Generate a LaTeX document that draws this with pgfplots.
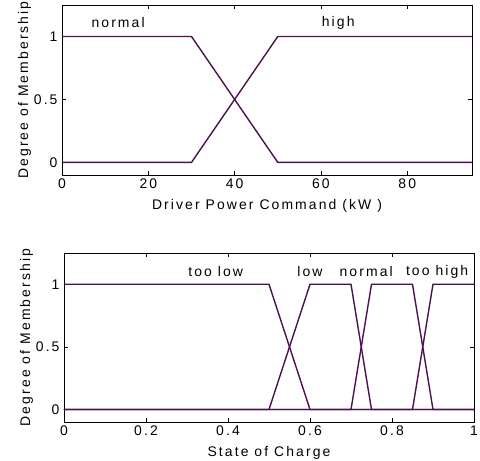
\documentclass[border=0pt]{standalone}
\usepackage{fontspec}
\setmainfont{Liberation Sans}[LetterSpace=15]
\usepackage{pgfplots}
\pgfplotsset{compat=1.18}
\definecolor{mf}{HTML}{4A1050}
\begin{document}
\begin{tikzpicture}
\pgfplotsset{
  mfline/.style={mf, line width=1.4pt, no marks},
  every axis/.append style={
    scale only axis, width=410bp, height=170bp,
    axis line style={black, line width=0.8pt},
    tick align=inside, major tick length=4bp,
    tick style={black, line width=0.6pt},
    ymin=-0.1, ymax=1.25,
    ytick={0,0.5,1}, yticklabels={0,0.5,1},
    ylabel={Degree of Membership},
    ylabel style={yshift=-4bp},
    font=\fontsize{14}{16}\selectfont,
    tick label style={font=\fontsize{14}{16}\selectfont},
    yticklabel style={xshift=-1bp},
    /pgf/number format/assume math mode=true,
    clip=false,
  },
}
\begin{axis}[
  xmin=0, xmax=95,
  xtick={0,20,40,60,80}, xticklabels={0,20,40,60,80},
  xlabel={Driver Power Command (kW )},
  xlabel style={yshift=-4bp},
]
\addplot[mfline] coordinates {(0,1) (30,1) (50,0) (95,0)};
\addplot[mfline] coordinates {(0,0) (30,0) (50,1) (95,1)};
\node at (axis cs:13,1.11) {normal};
\node at (axis cs:64,1.11) {high};
\end{axis}
\begin{axis}[
  at={(2bp,-247bp)},
  height=169bp,
  xmin=0, xmax=1,
  xtick={0,0.2,0.4,0.6,0.8,1}, xticklabels={0,0.2,0.4,0.6,0.8,1},
  xlabel={State of Charge},
  xlabel style={yshift=-4bp},
]
\addplot[mfline] coordinates {(0,1) (0.5,1) (0.6,0) (1,0)};
\addplot[mfline] coordinates {(0,0) (0.5,0) (0.6,1) (0.7,1) (0.75,0) (1,0)};
\addplot[mfline] coordinates {(0,0) (0.7,0) (0.75,1) (0.85,1) (0.9,0) (1,0)};
\addplot[mfline] coordinates {(0,0) (0.85,0) (0.9,1) (1,1)};
\node at (axis cs:0.37,1.1) {too low};
\node at (axis cs:0.6,1.1) {low};
\node at (axis cs:0.737,1.1) {normal};
\node at (axis cs:0.91,1.1) {too high};
\end{axis}
\pgfresetboundingbox
\path[use as bounding box] (-62bp,-286bp) rectangle (418bp,175bp);
\end{tikzpicture}
\end{document}
